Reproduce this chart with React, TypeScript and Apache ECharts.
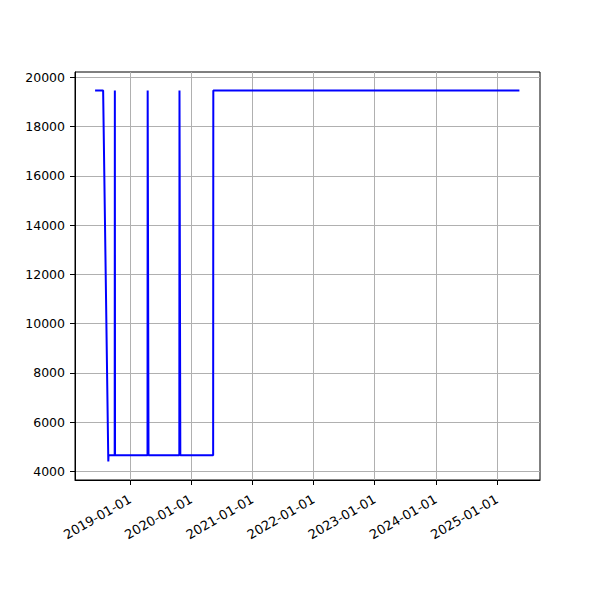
import React, { useEffect, useRef } from "react";
import * as echarts from "echarts";

const dates = [
  "2018-06-06", "2018-07-24", "2018-08-24", "2018-08-25", "2018-10-01", "2018-10-02", "2018-10-03",
  "2019-04-15", "2019-04-16", "2019-04-20", "2019-04-21",
  "2019-10-22", "2019-10-23", "2019-10-27", "2019-10-28",
  "2020-05-11", "2020-05-12", "2025-05-14",
];
const values = [
  19470, 19470, 4400, 4650, 4650, 19470, 4650,
  4650, 19470, 19470, 4650,
  4650, 19470, 19470, 4650,
  4650, 19470, 19470,
];
const xTicks = ["2019-01-01", "2020-01-01", "2021-01-01", "2022-01-01", "2023-01-01", "2024-01-01", "2025-01-01"];
const yTicks = [4000, 6000, 8000, 10000, 12000, 14000, 16000, 18000, 20000];

const ts = (d: string) => Date.parse(d + "T00:00:00Z");

export default function App() {
  const ref = useRef<HTMLDivElement>(null);
  useEffect(() => {
    document.body.style.margin = "0";
    if (!ref.current) return;
    const chart = echarts.init(ref.current, undefined, { renderer: "svg" });
    const font = "DejaVu Sans";
    const xTickVals = xTicks.map(ts);
    chart.setOption({
      animation: false,
      backgroundColor: "#ffffff",
      grid: {
        left: 75, right: 60, top: 72, bottom: 120,
        show: true, borderColor: "#000", borderWidth: 1, backgroundColor: "transparent",
      },
      xAxis: {
        type: "value",
        min: ts("2018-02-06"),
        max: ts("2025-09-14"),
        axisLine: { show: true, onZero: false, lineStyle: { color: "#000", width: 1 } },
        axisTick: { show: true, length: 5, lineStyle: { color: "#000" }, customValues: xTickVals },
        axisLabel: {
          customValues: xTickVals,
          rotate: 30,
          fontFamily: font,
          fontSize: 13,
          color: "#000",
          margin: 18,
          formatter: (v: number) => {
            const d = new Date(v);
            const mm = String(d.getUTCMonth() + 1).padStart(2, "0");
            const dd = String(d.getUTCDate()).padStart(2, "0");
            return `${d.getUTCFullYear()}-${mm}-${dd}`;
          },
        },
        splitLine: { show: true, lineStyle: { color: "#b0b0b0", width: 1 } },
      },
      yAxis: {
        type: "value",
        min: 3647,
        max: 20223,
        axisLine: { show: true, onZero: false, lineStyle: { color: "#000", width: 1 } },
        axisTick: { show: true, length: 5, lineStyle: { color: "#000" }, customValues: yTicks },
        axisLabel: {
          customValues: yTicks,
          fontFamily: font,
          fontSize: 12.5,
          color: "#000",
          margin: 10,
          formatter: (v: number) => String(v),
        },
        splitLine: { show: true, lineStyle: { color: "#b0b0b0", width: 1 } },
      },
      series: [
        {
          type: "line",
          data: dates.map((d, i) => [ts(d), values[i]]),
          showSymbol: false,
          symbol: "none",
          lineStyle: { color: "#0000ff", width: 2 },
          itemStyle: { color: "#0000ff" },
        },
      ],
    });
    return () => chart.dispose();
  }, []);
  return <div ref={ref} style={{ width: 600, height: 600 }} />;
}
